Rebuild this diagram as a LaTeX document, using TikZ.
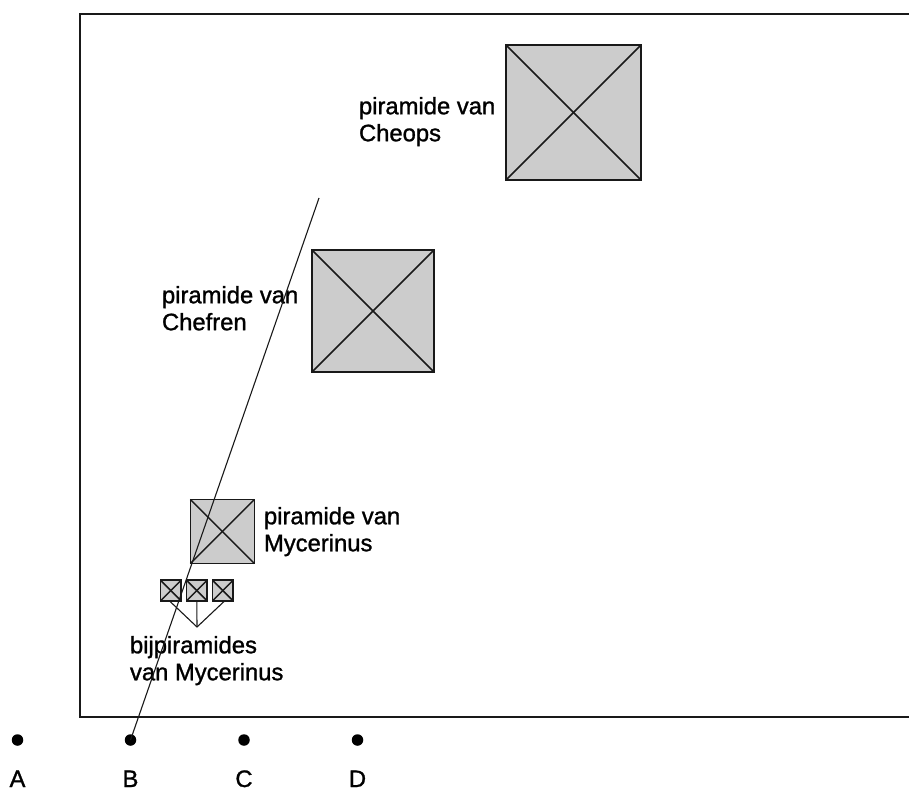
\documentclass[tikz,border=0pt]{standalone}
\usepackage{fontspec}
\setmainfont[FakeBold=1.2]{Liberation Sans}
\usetikzlibrary{calc}
\tikzset{
  x=1pt,y=-1pt,
  pyr/.style={draw=black!90,fill=black!20,line width=1.8pt,minimum size=#1,inner sep=0pt,outer sep=0pt},
  diag/.style={line width=1.5pt,black!90},
  thinline/.style={line width=1.1pt,black!90},
  lbl/.style={align=left,anchor=north west,inner sep=0pt,outer sep=0pt,font=\fontsize{23.8}{27}\selectfont},
  site/.style={circle,fill=black,minimum size=11.5pt,inner sep=0pt,outer sep=0pt},
  letter/.style={inner sep=0pt,outer sep=0pt,anchor=base,font=\fontsize{23.8}{25}\selectfont}
}
\newcommand{\pyramid}[4]{%
  \node[pyr=#4] (#1) at (#2,#3) {};
  \draw[diag] (#1.north west) -- (#1.south east);
  \draw[diag] (#1.north east) -- (#1.south west);
}
\begin{document}
\begin{tikzpicture}
\useasboundingbox (0,0) rectangle (909,789);
\coordinate (fa) at (909,14);
\coordinate (fb) at (80,14);
\coordinate (fc) at (80,717);
\coordinate (fd) at (909,717);
\draw[line width=1.8pt,black!90] (fa) -- (fb) -- (fc) -- (fd);
\pyramid{cheops}{573.5}{112.5}{135pt}
\pyramid{chefren}{373}{311}{122pt}
\pyramid{myc}{222.4}{531.5}{64pt}
\pyramid{s1}{170.8}{590.5}{20.5pt}
\pyramid{s2}{196.8}{590.5}{20.5pt}
\pyramid{s3}{222.8}{590.5}{20.5pt}
\node[lbl] (t1) at (359,97) {piramide van\\Cheops};
\node[lbl] (t2) at (162,286) {piramide van\\Chefren};
\node[lbl] (t3) at (264,507) {piramide van\\Mycerinus};
\node[lbl] (t4) at (130,636) {bijpiramides\\van Mycerinus};
\node[site] (A) at (17.5,740) {};
\node[site] (B) at (130.5,740) {};
\node[site] (C) at (244,740) {};
\node[site] (D) at (357.5,740) {};
\node[letter] (la) at (17.5,787) {A};
\node[letter] (lb) at (130.5,787) {B};
\node[letter] (lc) at (244,787) {C};
\node[letter] (ld) at (357.5,787) {D};
\coordinate (top) at (319,198);
\coordinate (fork) at (197,627);
\draw[thinline] (B.center) -- (top);
\draw[thinline] (s1.south) ++(-1.5,0) -- (fork);
\draw[thinline] (s2.south) -- (fork);
\draw[thinline] (s3.south) ++(2,0) -- (fork);
\end{tikzpicture}
\end{document}
